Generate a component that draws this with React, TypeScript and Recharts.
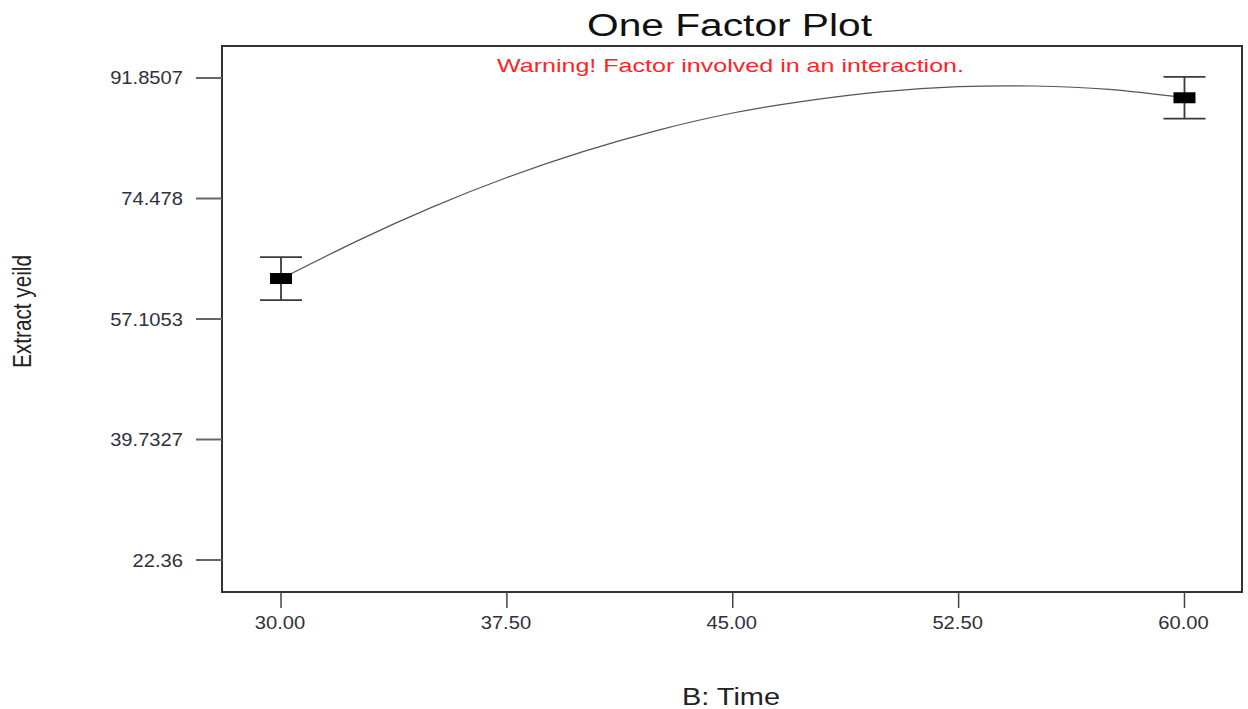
import { ComposedChart, Line, Scatter, ErrorBar, XAxis, YAxis, ReferenceArea } from 'recharts'

// values
const curveTimes = [30, 32.5, 35, 37.5, 40, 42.5, 45, 47.5, 50, 52.5, 55, 57.5, 60]
const curveYield = [62.9, 68.3, 73.2, 77.5, 81.2, 84.3, 86.8, 88.6, 89.9, 90.6, 90.7, 90.2, 89.0]

const designTimes = [30, 60]
const designYield = [62.94, 89.0]
const designError = [3.1, 3.0]

const xTicks = [30, 37.5, 45, 52.5, 60]
const yTicks = [22.36, 39.7327, 57.1053, 74.478, 91.8507]

const X_DOMAIN = [28.04, 61.91]
const Y_DOMAIN = [17.747, 96.464]

const curveData = curveTimes.map((x, i) => ({ x, y: curveYield[i] }))
const pointData = designTimes.map((x, i) => ({ x, y: designYield[i], err: designError[i] }))

const FONT = '"Liberation Sans", Arial, sans-serif'

const YTick = (props: any) => {
  const { x, y, payload } = props
  return (
    <text
      transform={`translate(${x},${y + 6.5}) scale(1.12,1)`}
      textAnchor="end"
      fontSize={18}
      fontFamily={FONT}
      fill="#30303e"
    >
      {String(payload.value)}
    </text>
  )
}

const XTick = (props: any) => {
  const { x, y, payload } = props
  return (
    <text
      transform={`translate(${x - 1},${y + 17}) scale(1.12,1)`}
      textAnchor="middle"
      fontSize={18}
      fontFamily={FONT}
      fill="#30303e"
    >
      {payload.value.toFixed(2)}
    </text>
  )
}

const Box = (props: any) => {
  const { cx, cy } = props
  return <rect x={cx - 11} y={cy - 5.5} width={22} height={11} fill="#000" />
}

export default function App() {
  return (
    <div style={{ position: 'absolute', left: 0, top: 0, width: 1248, height: 709, background: '#fff' }}>
      <ComposedChart width={1248} height={709} margin={{ top: 46, right: 6, bottom: 0, left: 0 }}>
        <XAxis
          dataKey="x"
          type="number"
          domain={X_DOMAIN}
          allowDataOverflow
          ticks={xTicks}
          tickSize={16}
          tickMargin={4}
          height={117}
          tick={<XTick />}
          tickLine={{ stroke: '#444', strokeWidth: 1.5 }}
          axisLine={{ stroke: '#333', strokeWidth: 2 }}
        />
        <YAxis
          dataKey="y"
          type="number"
          domain={Y_DOMAIN}
          allowDataOverflow
          ticks={yTicks}
          tickSize={26}
          tickMargin={13}
          width={222}
          tick={<YTick />}
          tickLine={{ stroke: '#666', strokeWidth: 2 }}
          axisLine={{ stroke: '#333', strokeWidth: 2 }}
        />
        <ReferenceArea
          x1={X_DOMAIN[0]}
          x2={X_DOMAIN[1]}
          y1={Y_DOMAIN[0]}
          y2={Y_DOMAIN[1]}
          fill="none"
          stroke="#333"
          strokeWidth={2}
          fillOpacity={0}
        />
        <Line
          data={curveData}
          dataKey="y"
          type="natural"
          stroke="#555"
          strokeWidth={1.2}
          dot={false}
          activeDot={false}
          isAnimationActive={false}
        />
        <Scatter data={pointData} dataKey="y" shape={<Box />} isAnimationActive={false}>
          <ErrorBar dataKey="err" direction="y" width={21} stroke="#3a3a3a" strokeWidth={1.8} isAnimationActive={false} />
        </Scatter>
      </ComposedChart>
      <svg
        width={1248}
        height={709}
        style={{ position: 'absolute', left: 0, top: 0, pointerEvents: 'none' }}
        fontFamily={FONT}
      >
        <text x={729.5} y={36} textAnchor="middle" fontSize={31} fill="#111" textLength={285} lengthAdjust="spacingAndGlyphs">
          One Factor Plot
        </text>
        <text x={730.5} y={72} textAnchor="middle" fontSize={19} fill="#ff2424" textLength={467} lengthAdjust="spacingAndGlyphs">
          Warning! Factor involved in an interaction.
        </text>
        <text x={731} y={705} textAnchor="middle" fontSize={23} fill="#222" textLength={98} lengthAdjust="spacingAndGlyphs">
          B: Time
        </text>
        <text
          transform="translate(31,311.5) scale(1.25,1) rotate(-90)"
          textAnchor="middle"
          fontSize={21}
          fill="#222"
          textLength={113}
          lengthAdjust="spacingAndGlyphs"
        >
          Extract yeild
        </text>
      </svg>
    </div>
  )
}
